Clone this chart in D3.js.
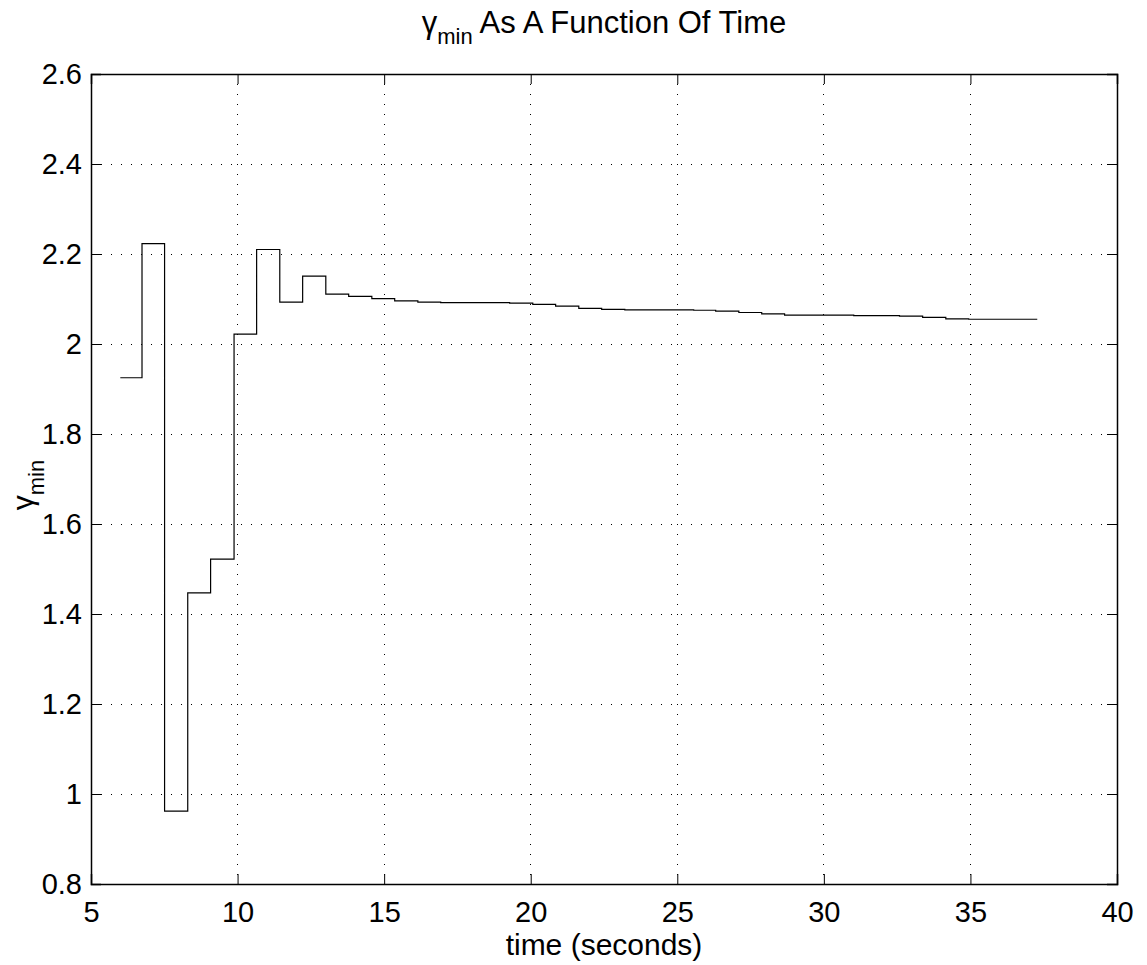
<!DOCTYPE html>
<html>
<head>
<meta charset="utf-8">
<script src="https://cdn.jsdelivr.net/npm/d3@7"></script>
<style>
  body { margin: 0; background: #fff; }
  text { font-family: "Liberation Sans", Arial, Helvetica, sans-serif; fill: #000; }
</style>
</head>
<body>
<div class="chart"></div>
<script>
// gamma_min step trace
const stepTimes = [6.0, 6.74, 7.51, 8.30, 9.08, 9.88, 10.65, 11.44, 12.22, 13.01,
  13.79, 14.58, 15.36, 16.15, 16.93, 17.71, 18.50, 19.28, 20.07, 20.85,
  21.64, 22.42, 23.21, 23.99, 24.78, 25.56, 26.31, 27.10, 27.88, 28.66,
  29.45, 30.23, 31.02, 31.80, 32.58, 33.37, 34.16, 34.94, 35.73, 36.51, 37.28]
const gammaValues = [1.925, 2.223, 0.962, 1.447, 1.522, 2.022, 2.210, 2.093, 2.151, 2.111,
  2.106, 2.101, 2.096, 2.093, 2.092, 2.092, 2.092, 2.091, 2.088, 2.084,
  2.079, 2.077, 2.076, 2.076, 2.076, 2.075, 2.073, 2.070, 2.067, 2.064,
  2.064, 2.064, 2.063, 2.063, 2.062, 2.059, 2.056, 2.055, 2.055, 2.055, 2.055]
const xTicks = [5, 10, 15, 20, 25, 30, 35, 40]
const yTicks = [0.8, 1, 1.2, 1.4, 1.6, 1.8, 2, 2.2, 2.4, 2.6]

const data = stepTimes.map((t, i) => ({t: t, v: gammaValues[i]}))

const W = 1147, H = 965
const margin = {top: 74, right: 30, bottom: 81, left: 91}
const width = 1117 - margin.left
const height = 884 - margin.top

const svg = d3.select('.chart').append('svg')
    .attr('width', W)
    .attr('height', H)

const g = svg.append('g')
    .attr('transform', 'translate(' + margin.left + ',' + margin.top + ')')

const x = d3.scaleLinear().domain([5, 40]).range([0, width])
const y = d3.scaleLinear().domain([0.8, 2.6]).range([height, 0])

// dotted grid
g.append('g').selectAll('line').data(xTicks.slice(1, -1)).enter().append('line')
    .attr('x1', d => x(d)).attr('x2', d => x(d))
    .attr('y1', 0).attr('y2', height)
    .attr('stroke', '#000').attr('stroke-width', 1)
    .attr('stroke-dasharray', '1,9')
    .attr('shape-rendering', 'crispEdges')
g.append('g').selectAll('line').data(yTicks.slice(1, -1)).enter().append('line')
    .attr('x1', 0).attr('x2', width)
    .attr('y1', d => y(d)).attr('y2', d => y(d))
    .attr('stroke', '#000').attr('stroke-width', 1)
    .attr('stroke-dasharray', '1,9')
    .attr('shape-rendering', 'crispEdges')

// the step line
const line = d3.line()
    .x(d => x(d.t))
    .y(d => y(d.v))
    .curve(d3.curveStepAfter)

g.append('path')
    .datum(data)
    .attr('d', line)
    .attr('fill', 'none')
    .attr('stroke', '#000')
    .attr('stroke-width', 1.2)

// axes with inward ticks on all four sides
const fmt = d => String(d)
const xAxisB = d3.axisBottom(x).tickValues(xTicks).tickSize(-10).tickPadding(17).tickFormat(fmt)
const xAxisT = d3.axisTop(x).tickValues(xTicks).tickSize(-10).tickFormat('')
const yAxisL = d3.axisLeft(y).tickValues(yTicks).tickSize(-10).tickPadding(9).tickFormat(fmt)
const yAxisR = d3.axisRight(y).tickValues(yTicks).tickSize(-10).tickFormat('')

function styleAxis(sel) {
  sel.selectAll('.domain').attr('stroke', '#000').attr('stroke-width', 1.5)
  sel.selectAll('.tick line').attr('stroke', '#000')
  sel.selectAll('.tick text')
      .style('font-family', '"Liberation Sans", Arial, Helvetica, sans-serif')
      .style('font-size', '29px')
      .attr('fill', '#000')
}

g.append('g').attr('transform', 'translate(0,' + height + ')').call(xAxisB).call(styleAxis)
g.append('g').call(xAxisT).call(styleAxis)
g.append('g').call(yAxisL).call(styleAxis)
g.append('g').attr('transform', 'translate(' + width + ',0)').call(yAxisR).call(styleAxis)

// title
const title = svg.append('text')
    .attr('x', margin.left + width / 2)
    .attr('y', 33)
    .attr('text-anchor', 'middle')
    .style('font-size', '31px')
title.append('tspan').text('γ')
title.append('tspan').text('min').style('font-size', '22px').attr('dy', 11)
title.append('tspan').text(' As A Function Of Time').attr('dy', -11)

// x label
svg.append('text')
    .attr('x', margin.left + width / 2)
    .attr('y', 955)
    .attr('text-anchor', 'middle')
    .style('font-size', '30px')
    .text('time (seconds)')

// y label
const ylab = svg.append('text')
    .attr('transform', 'translate(33,485) rotate(-90)')
    .attr('text-anchor', 'middle')
    .style('font-size', '30px')
ylab.append('tspan').text('γ')
ylab.append('tspan').text('min').style('font-size', '22px').attr('dy', 11)
</script>
</body>
</html>
